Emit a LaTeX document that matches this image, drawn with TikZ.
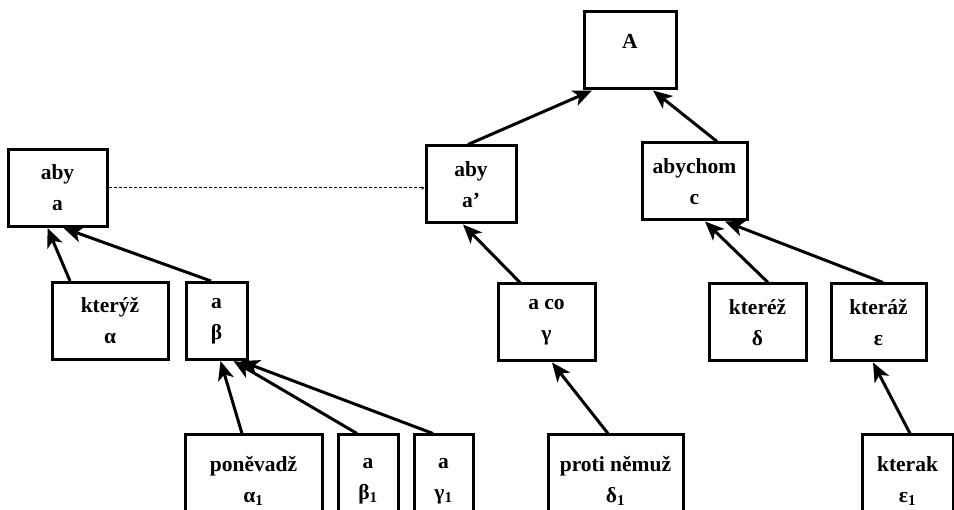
\documentclass[tikz,border=0pt]{standalone}
\usepackage{fontspec}
\setmainfont{Liberation Serif}
\usetikzlibrary{arrows.meta}
\begin{document}
\begin{tikzpicture}[x=1pt,y=-1pt,
  boxstyle/.style={draw,line width=3pt,inner sep=0pt,align=center,minimum height=77,
    font=\fontsize{21.5}{31}\selectfont\bfseries},
  arrowstyle/.style={line width=3pt,-{Stealth[length=19pt,width=16pt,inset=5pt]}},
  linkstyle/.style={line width=1pt,densely dashed,-{Stealth[length=3pt,width=3pt]}}]
\useasboundingbox (0,0) rectangle (954,510);
\node[boxstyle,minimum width=92,text depth=19pt](A) at (630,50.5) {A};
\node[boxstyle,minimum width=99](aby) at (57.5,188) {aby\\a};
\node[boxstyle,minimum width=90](abyp) at (471,184.5) {aby\\a’};
\node[boxstyle,minimum width=105](abychom) at (694.5,181.5) {abychom\\c};
\node[boxstyle,minimum width=116](kteryz) at (110,321) {kterýž\\α};
\node[boxstyle,minimum width=61](abeta) at (216.5,321) {a\\β};
\node[boxstyle,minimum width=97](aco) at (546.5,322.5) {a co\\γ};
\node[boxstyle,minimum width=97](kterez) at (757.5,322.5) {kteréž\\δ};
\node[boxstyle,minimum width=95](kteraz) at (878.5,322.5) {kteráž\\ε};
\node[boxstyle,minimum width=137,minimum height=92](ponevadz) at (253.5,481) {poněvadž\\α\textsubscript{1}};
\node[boxstyle,minimum width=60,minimum height=92](abetaone) at (368,481) {a\\β\textsubscript{1}};
\node[boxstyle,minimum width=59,minimum height=92](agammaone) at (443.5,481) {a\\γ\textsubscript{1}};
\node[boxstyle,minimum width=135,minimum height=92](protinemuz) at (615.5,481) {proti němuž\\δ\textsubscript{1}};
\node[boxstyle,minimum width=91,minimum height=92](kterak) at (907.5,481) {kterak\\ε\textsubscript{1}};
% links between levels
\draw[linkstyle] (aby.east) -- (aby.east -| abyp.west);
\draw[arrowstyle] ([xshift=-3pt]abyp.north) -- ([xshift=-38pt]A.south);
\draw[arrowstyle] ([xshift=22.5pt]abychom.north) -- ([xshift=23pt]A.south);
\draw[arrowstyle] ([xshift=-40pt]kteryz.north) -- ([xshift=-10pt]aby.south);
\draw[arrowstyle] ([xshift=-5.5pt]abeta.north) -- ([xshift=6pt]aby.south);
\draw[arrowstyle] ([xshift=-11.5pt]ponevadz.north) -- ([xshift=4pt]abeta.south);
\draw[arrowstyle] ([xshift=-11pt]abetaone.north) -- ([xshift=17pt]abeta.south);
\draw[arrowstyle] ([xshift=-10.5pt]agammaone.north) -- ([xshift=24pt]abeta.south);
\draw[arrowstyle] ([xshift=-26.5pt]aco.north) -- ([xshift=-8pt]abyp.south);
\draw[arrowstyle] ([xshift=-7.5pt]protinemuz.north) -- ([xshift=5.5pt]aco.south);
\draw[arrowstyle] ([xshift=10.5pt]kterez.north) -- ([xshift=10.5pt]abychom.south);
\draw[arrowstyle] ([xshift=4.5pt]kteraz.north) -- ([xshift=30.5pt]abychom.south);
\draw[arrowstyle] ([xshift=2.5pt]kterak.north) -- ([xshift=-5.5pt]kteraz.south);
\end{tikzpicture}
\end{document}
